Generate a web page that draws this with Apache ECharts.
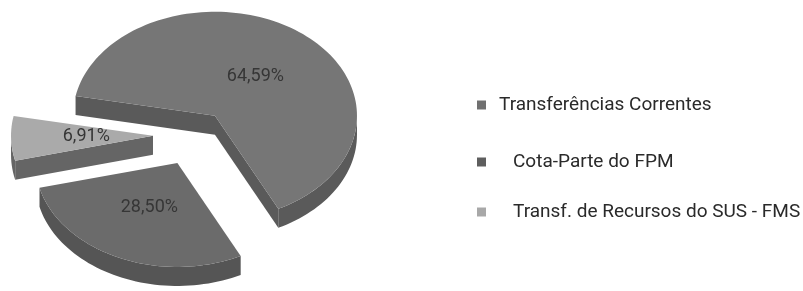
<!DOCTYPE html>
<html>
<head>
<meta charset="utf-8">
<script src="https://cdn.jsdelivr.net/npm/echarts@6/dist/echarts.min.js"></script>
<style>
html,body{margin:0;padding:0;background:#fff;}
#main{width:803px;height:291px;}
</style>
</head>
<body>
<div id="main"></div>
<script>
// ---- data ----
const categories = ['Transferências Correntes', 'Cota-Parte do FPM', 'Transf. de Recursos do SUS - FMS'];
const values = [64.59, 28.50, 6.91];

// ---- style / geometry (not data) ----
const topColors = ['#767676', '#6b6b6b', '#aaaaaa'];
const sideColors = ['#5a5a5a', '#555555', '#656565'];
const legendColors = ['#707070', '#5e5e5e', '#a8a8a8'];
const G = { cx: 195, cy: 135, rx: 142, ry: 104, depth: 19, start: 191, explode: [33, 42, 42], labelR: 0.47 };

const total = values.reduce((a, b) => a + b, 0);
const rad = d => d * Math.PI / 180;

function fmt(v) { return v.toFixed(2).replace('.', ',') + '%'; }

function renderItem(params, api) {
  const i = params.seriesIndex;
  const v = api.value(0);
  let cum = 0;
  for (let k = 0; k < i; k++) cum += values[k];
  const a0 = G.start + 360 * cum / total;
  const a1 = a0 + 360 * v / total;
  const mid = (a0 + a1) / 2;
  const e = G.explode[i];
  const px = G.cx + e * Math.cos(rad(mid));
  const py = G.cy + e * Math.sin(rad(mid)) * G.ry / G.rx;
  const pt = (a, dy) => [px + G.rx * Math.cos(rad(a)), py + G.ry * Math.sin(rad(a)) + dy];
  const arc = (f, t, dy) => {
    const n = Math.max(6, Math.ceil(Math.abs(t - f) / 2));
    const out = [];
    for (let k = 0; k <= n; k++) out.push(pt(f + (t - f) * k / n, dy));
    return out;
  };
  const children = [];
  const d = G.depth;
  // radial faces
  if (Math.cos(rad(a0)) < 0) {
    const c = pt(a0, 0);
    children.push({ type: 'polygon', shape: { points: [[px, py], c, [c[0], c[1] + d], [px, py + d]] }, style: { fill: sideColors[i] } });
  }
  if (Math.cos(rad(a1)) > 0) {
    const c = pt(a1, 0);
    children.push({ type: 'polygon', shape: { points: [[px, py], c, [c[0], c[1] + d], [px, py + d]] }, style: { fill: sideColors[i] } });
  }
  // outer walls (front half of ellipse)
  for (let n = Math.floor(a0 / 180) - 1; n <= Math.ceil(a1 / 180) + 1; n++) {
    if (((n % 2) + 2) % 2 !== 0) continue;
    const s = Math.max(a0, n * 180), t = Math.min(a1, (n + 1) * 180);
    if (t - s <= 0.01) continue;
    const pts = arc(s, t, 0).concat(arc(s, t, d).reverse());
    children.push({ type: 'polygon', shape: { points: pts }, style: { fill: sideColors[i] } });
  }
  // top face
  children.push({ type: 'polygon', shape: { points: [[px, py]].concat(arc(a0, a1, 0)) }, style: { fill: topColors[i] } });
  // label
  children.push({
    type: 'text',
    style: {
      text: fmt(v),
      x: px + G.labelR * G.rx * Math.cos(rad(mid)),
      y: py + G.labelR * G.ry * Math.sin(rad(mid)),
      align: 'center', verticalAlign: 'middle',
      fontFamily: 'Roboto', fontSize: 18, fill: '#363636'
    }
  });
  return { type: 'group', children: children };
}

const legendY = [100, 157, 207];
const legendPad = [8, 22, 22];

const chart = echarts.init(document.getElementById('main'), null, { renderer: 'canvas' });
chart.setOption({
  backgroundColor: '#ffffff',
  animation: false,
  legend: categories.map((c, i) => ({
    data: [c],
    left: 472,
    top: legendY[i] - 11,
    orient: 'vertical',
    icon: 'rect',
    itemWidth: 9,
    itemHeight: 9,
    selectedMode: false,
    textStyle: { fontFamily: 'Roboto', fontSize: 19, color: '#2a2a2a', lineHeight: 22, padding: [0, 0, 0, legendPad[i]] }
  })),
  series: categories.map((c, i) => ({
    type: 'custom',
    name: c,
    coordinateSystem: 'none',
    itemStyle: { color: legendColors[i] },
    data: [values[i]],
    renderItem: renderItem
  }))
});
</script>
</body>
</html>
